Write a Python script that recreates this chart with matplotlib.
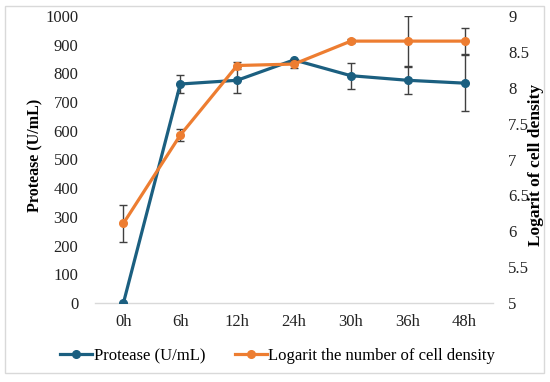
import matplotlib
matplotlib.use('Agg')
import matplotlib.pyplot as plt
from matplotlib.patches import Rectangle
from matplotlib.lines import Line2D

# data
hours = ["0h", "6h", "12h", "24h", "30h", "36h", "48h"]
protease = [0, 763, 776, 847, 792, 776, 766]
protease_err = [0, 30, 45, 0, 45, 48, 97]
cell_log = [6.11, 7.34, 8.31, 8.33, 8.65, 8.65, 8.65]
cell_err = [0.26, 0.08, 0.05, 0.05, 0.03, 0.35, 0.18]

blue = "#1B5F80"
orange = "#ED7D31"
errc = "#404040"

plt.rcParams['font.family'] = ['Liberation Serif', 'DejaVu Serif']

W, H = 550, 382
fig = plt.figure(figsize=(5.5, 3.82), dpi=100)
ax = fig.add_axes([95 / W, 1 - 303 / H, 398 / W, 287 / H])
ax2 = ax.twinx()

x = list(range(len(hours)))

ax.errorbar(x, protease, yerr=protease_err, color=blue, lw=2.3, marker='o', ms=5.5,
            ecolor=errc, elinewidth=1, capsize=2.8, capthick=1, zorder=3)
ax2.errorbar(x, cell_log, yerr=cell_err, color=orange, lw=2.3, marker='o', ms=5.5,
             ecolor=errc, elinewidth=1, capsize=2.8, capthick=1, zorder=3)

ax.set_xlim(-0.5, len(hours) - 0.5)
ax.set_ylim(0, 1000)
ax.set_yticks(range(0, 1001, 100))
ax2.set_ylim(5, 9)
ax2.set_yticks([5, 5.5, 6, 6.5, 7, 7.5, 8, 8.5, 9])
ax2.set_yticklabels(["5", "5.5", "6", "6.5", "7", "7.5", "8", "8.5", "9"])
ax.set_xticks(x)
ax.set_xticklabels(hours)

for a in (ax, ax2):
    for s in a.spines.values():
        s.set_visible(False)
    a.tick_params(length=0, labelsize=12, colors="#222222")
ax.spines['bottom'].set_visible(True)
ax.spines['bottom'].set_color("#d9d9d9")
ax.spines['bottom'].set_linewidth(1)
ax.tick_params(axis='y', pad=12)
ax.tick_params(axis='x', pad=8)
ax2.tick_params(axis='y', pad=11)

# axis titles placed like the reference
fig.text(35 / W, 1 - 155 / H, "Protease (U/mL)", rotation=90, ha='center', va='center',
         fontsize=11.5, fontweight='bold')
fig.text(536 / W, 1 - 165 / H, "Logarit of cell density", rotation=90, ha='center', va='center',
         fontsize=12.5, fontweight='bold')

handles = [Line2D([], [], color=blue, lw=2.3, marker='o', ms=5.5),
           Line2D([], [], color=orange, lw=2.3, marker='o', ms=5.5)]
fig.legend(handles, ["Protease (U/mL)", "Logarit the number of cell density"],
           loc='center', bbox_to_anchor=(0.505, 0.068), ncol=2, frameon=False,
           fontsize=12, handlelength=1.9, handletextpad=0.1, columnspacing=1.8)

fig.patches.append(Rectangle((0.009, 0.024), 0.98, 0.961, transform=fig.transFigure,
                             fill=False, edgecolor="#d9d9d9", lw=1))

fig.savefig("out.png", dpi=100)
